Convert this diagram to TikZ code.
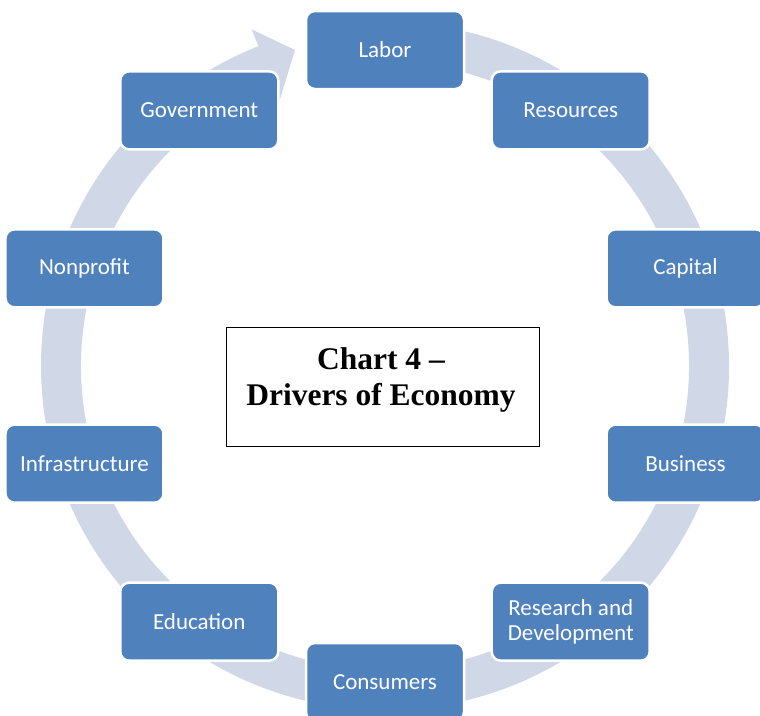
\documentclass[tikz,border=0pt]{standalone}
\usepackage{fontspec}
\setmainfont{Liberation Serif}
\newfontfamily\calfont{Carlito}
\definecolor{drvblue}{HTML}{4F81BD}
\definecolor{ringcol}{HTML}{D0D8E8}
\begin{document}
\begin{tikzpicture}[x=1pt,y=-1pt,
  driver/.style={draw=white, line width=2.5pt, fill=drvblue, rounded corners=9pt,
    minimum width=158pt, minimum height=78pt, inner sep=0pt, align=center,
    text=white, font=\calfont\fontsize{23}{25}\selectfont},
  titlebox/.style={draw=black, line width=0.8pt, minimum width=313pt, minimum height=119pt, inner sep=0pt},
  titletext/.style={font=\bfseries\fontsize{31.5}{36}\selectfont, inner sep=0pt}]
\useasboundingbox (0,0) rectangle (760,715);
\clip (0,0) rectangle (760,715);
\fill[white] (0,0) rectangle (760,715);
\begin{scope}[shift={(385,366)}]
  % circular arrow running clockwise behind the drivers
  \fill[ringcol] (-95:344) arc[start angle=-95, end angle=248.4, radius=344]
    -- (248.4:362) -- (254.1:328.6) -- (248.4:286) -- (248.4:304)
    arc[start angle=248.4, end angle=-95, radius=304] -- cycle;
  % drivers placed around the cycle
  \node[driver] (labor)     at (-90:316)  {Labor};
  \node[driver] (resources) at (-54:316)  {Resources};
  \node[driver] (capital)   at (-18:316)  {Capital};
  \node[driver] (business)  at (18:316)   {Business};
  \node[driver] (research)  at (54:316)   {Research and\\Development};
  \node[driver] (consumers) at (90:316)   {Consumers};
  \node[driver] (education) at (126:316)  {Education};
  \node[driver] (infra)     at (162:316)  {Infrastructure};
  \node[driver] (nonprofit) at (198:316)  {Nonprofit};
  \node[driver] (gov)       at (234:316)  {Government};
\end{scope}
% chart title
\node[titlebox] (title) at (383,387) {};
\node[titletext, anchor=base] (t1) at (381,369) {Chart 4 –};
\node[titletext, anchor=base] (t2) at (381,405) {Drivers of Economy};
\end{tikzpicture}
\end{document}
